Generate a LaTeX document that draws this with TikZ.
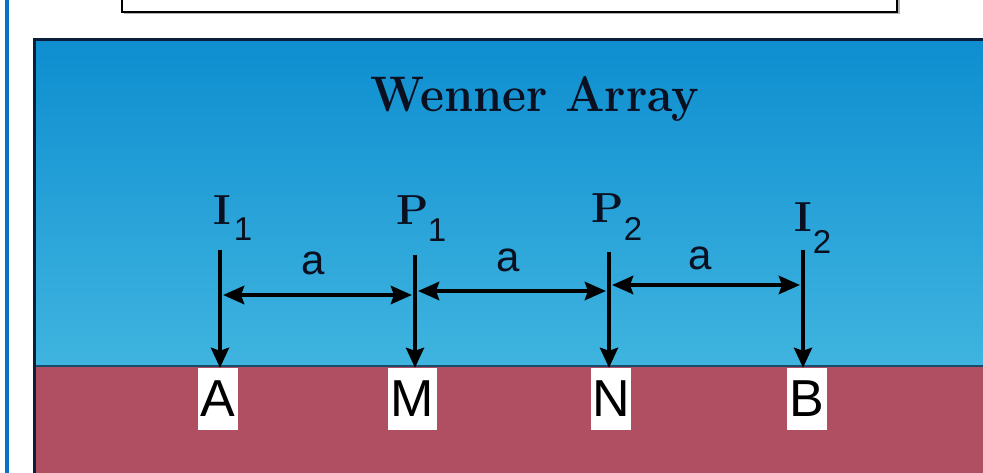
\documentclass[tikz,border=0pt]{standalone}
\usepackage{fontspec}
\newfontfamily\arial{Liberation Sans}
\usetikzlibrary{arrows.meta}
\definecolor{skytop}{HTML}{0E8ED0}
\definecolor{skybot}{HTML}{3FB4DF}
\definecolor{soil}{HTML}{B04F61}
\definecolor{edge}{HTML}{0B1E3A}
\definecolor{ink}{HTML}{0A1020}
\definecolor{rule}{HTML}{0A70C8}
\tikzset{
  probe/.style={line width=3.8pt, -{Stealth[length=20pt,width=18pt,inset=3pt]}},
  span/.style={line width=4.8pt, {Stealth[length=21pt,width=18pt,inset=3pt]}-{Stealth[length=21pt,width=18pt,inset=3pt]}},
  electrode/.style={fill=white, inner sep=0pt, minimum width=40pt, minimum height=62pt, font=\arial\fontsize{52}{52}\selectfont},
  letter/.style={inner sep=0pt, text=ink, font=\fontsize{42}{42}\selectfont\bfseries},
  sub/.style={inner sep=0pt, text=ink, font=\arial\fontsize{33}{33}\selectfont},
  dist/.style={inner sep=0pt, text=ink, font=\arial\fontsize{42}{42}\selectfont}
}
\begin{document}
\begin{tikzpicture}[x=1pt,y=-1pt]
\useasboundingbox (0,0) rectangle (983,473);
% page background and side rule
\fill[white] (0,0) rectangle (983,473);
\fill[rule] (5,0) rectangle (9,473);
% caption frame at the top
\fill[gray!60] (124,-5) rectangle (900,14);
\draw[line width=2pt, fill=white] (122,-5) rectangle (897,12);
% sky and soil
\shade[top color=skytop, bottom color=skybot] (33,39) rectangle (983,365);
\fill[soil] (33,365) rectangle (983,473);
\draw[line width=2pt, edge!70!skybot] (33,365.5) -- (983,365.5);
\draw[line width=3pt, edge] (983,39.5) -- (34.5,39.5) -- (34.5,473);
% title
\node[inner sep=0pt, text=ink, font=\fontsize{50}{50}\selectfont\bfseries, xscale=0.93] (title) at (535,99) {Wenner Array};
% electrode labels in the soil
\node[electrode, minimum width=40pt] (A) at (218,399) {A};
\node[electrode, minimum width=49pt] (M) at (412.5,399) {M};
\node[electrode, minimum width=40pt] (N) at (611,399) {N};
\node[electrode, minimum width=40pt] (B) at (807,399) {B};
% probe labels
\node[letter] (I1) at (222,210) {I};
\node[sub] (I1s) at (243,229) {1};
\node[letter] (P1) at (413,210) {P};
\node[sub] (P1s) at (437,230) {1};
\node[letter] (P2) at (608,208) {P};
\node[sub] (P2s) at (633,229) {2};
\node[letter] (I2) at (803,217) {I};
\node[sub] (I2s) at (822,242) {2};
% probe tops
\coordinate (t1) at (220,250);
\coordinate (t2) at (415,255);
\coordinate (t3) at (609,252);
\coordinate (t4) at (803,250);
% probes into the ground
\draw[probe] (t1) -- (t1 |- A.north);
\draw[probe] (t2) -- (t2 |- M.north);
\draw[probe] (t3) -- (t3 |- N.north);
\draw[probe] (t4) -- (t4 |- B.north);
% spacings, one level per pair of probes
\coordinate (s1) at (223,295);
\coordinate (s2) at (412,295);
\coordinate (s3) at (418,291);
\coordinate (s4) at (606,291);
\coordinate (s5) at (612,285);
\coordinate (s6) at (800,285);
\draw[span] (s1) -- (s2);
\draw[span] (s3) -- (s4);
\draw[span] (s5) -- (s6);
\node[dist] (a1) at (313,263) {a};
\node[dist] (a2) at (508,260) {a};
\node[dist] (a3) at (700,258) {a};
\end{tikzpicture}
\end{document}
